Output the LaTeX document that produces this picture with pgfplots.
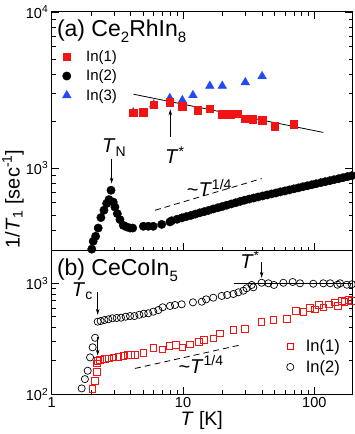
\documentclass[border=0pt]{standalone}
\usepackage{fontspec}
\setmainfont{Liberation Sans}
\usepackage{pgfplots}
\pgfplotsset{compat=1.18}
\usetikzlibrary{arrows.meta}

\definecolor{rojo}{RGB}{240,20,20}
\definecolor{azul}{RGB}{35,75,245}

\tikzset{
  ann/.style={font=\fontsize{20}{20}\selectfont, inner sep=0pt},
  arr/.style={-{Stealth[length=6pt,width=3.5pt]}, line width=0.7pt},
}
\newcommand{\sub}[1]{\raisebox{-0.26em}{\fontsize{15}{15}\selectfont #1}}

\begin{document}
\begin{tikzpicture}[x=1pt,y=1pt]
\path[use as bounding box] (0,0) rectangle (354,434);

% ---- (a) Ce2RhIn8
\begin{axis}[at={(51.7pt,183.3pt)}, anchor=south west,
  scale only axis, width=301pt, height=238.7pt,
  xmode=log, ymode=log, xmin=1, xmax=196, ymin=295, ymax=10000,
  tick align=inside, major tick length=7.5pt, minor tick length=4pt,
  axis line style={line width=1pt},
  tick style={black, line width=0.8pt},
  tick label style={font=\fontsize{14.5}{14.5}\selectfont},
  xtick={1,10,100}, minor xtick={2,3,4,5,6,7,8,9,20,30,40,50,60,70,80,90,200},
  xtick pos=both, xticklabels={},
  ytick={1000,10000}, yticklabels={10\textsuperscript{3},10\textsuperscript{4}},
  minor ytick={400,500,600,700,800,900,2000,3000,4000,5000,6000,7000,8000,9000},
  legend style={at={(0.035,0.848)}, anchor=north west, draw=none, fill=none,
    inner sep=0pt, column sep=13pt, row sep=3pt, font=\fontsize{15}{15}\selectfont},
  legend cell align=left,
]
\addplot[only marks, mark=triangle*, mark size=5pt, color=azul, forget plot] coordinates {
(4.18,2265) (5.98,2547) (7.93,2799) (9.88,2716) (11.9,2924) (16.0,3357) (19.9,3357) (29.8,3540) (40.0,3873)
};
\addplot[only marks, mark=square*, mark size=3.8pt, color=rojo] coordinates {
(4.18,2265) (4.99,2275) (5.98,2547) (7.93,2649) (9.88,2488) (12.9,2344) (16.0,2404) (19.9,2208)
(22.8,2208) (25.8,2234) (29.8,2074) (34.0,2061) (40.0,2023) (49.9,1857) (69.7,1905)
};
\addplot[only marks, mark=*, mark size=4.2pt, color=black] coordinates {
(2.02,302) (2.07,339) (2.16,365) (2.26,412) (2.37,481) (2.50,536) (2.62,592) (2.73,627) (2.83,720)
(2.94,605) (3.03,562) (3.16,510) (3.31,467) (3.51,429) (3.72,419) (3.95,412) (4.14,412)
(4.99,423) (5.44,423) (5.93,423) (6.88,435) (7.95,451)
(8.2,459) (9.0,469) (9.8,479) (10.6,488) (11.5,497) (12.4,506) (13.4,516) (14.5,525) (15.7,535)
(17.0,546) (18.4,556) (19.9,566) (21.5,577) (23.3,588) (25.2,599) (27.3,611) (29.5,622) (31.9,632)
(34.5,642) (37.3,652) (40.4,662) (43.7,672) (47.2,682) (51.1,692) (55.2,703) (59.7,713) (64.6,724)
(69.9,735) (75.6,746) (81.7,758) (88.4,769) (95.6,781) (103,792) (112,805) (121,817) (131,829)
(141,841) (153,854) (165,867) (179,881) (193,893)
};
\addlegendimage{only marks, mark=triangle*, mark size=5pt, color=azul}
\legend{In(1),In(2),In(3)}
\addplot[black, line width=0.8pt] coordinates {(4.2,2970) (117,1690)};
\addplot[black, line width=0.8pt, dash pattern=on 6pt off 4pt] coordinates {(6.12,536) (39.7,855)};
\node[anchor=base west, font=\fontsize{23}{23}\selectfont, inner sep=0pt] at (rel axis cs:0.017,0.898)
  {(a) Ce\sub{2}RhIn\sub{8}};
\node[ann, anchor=base] at (axis cs:2.99,1248) {\textit{T}\textsubscript{N}};
\draw[arr] (axis cs:2.86,1148) -- (axis cs:2.86,794);
\node[ann, anchor=base west] at (axis cs:7.29,1067) {\textit{T}\textsuperscript{*}};
\draw[arr] (axis cs:8.0,1580) -- (axis cs:8.0,2377);
\node[ann, anchor=base west] at (axis cs:10.67,652) {\textasciitilde\textit{T}\textsuperscript{1/4}};
\end{axis}

% ---- (b) CeCoIn5
\begin{axis}[at={(51.7pt,39.7pt)}, anchor=south west,
  scale only axis, width=301pt, height=143.6pt,
  xmode=log, ymode=log, xmin=1, xmax=196, ymin=100, ymax=1967,
  tick align=inside, major tick length=7.5pt, minor tick length=4pt,
  axis line style={line width=1pt},
  tick style={black, line width=0.8pt},
  tick label style={font=\fontsize{14.5}{14.5}\selectfont},
  xticklabel style={inner sep=0pt, yshift=-3pt},
  xtick={1,10,100}, minor xtick={2,3,4,5,6,7,8,9,20,30,40,50,60,70,80,90,200},
  xtick pos=bottom, xticklabels={1,10,100},
  ytick={100,1000}, yticklabels={10\textsuperscript{2},10\textsuperscript{3}},
  minor ytick={200,300,400,500,600,700,800,900},
  legend style={at={(0.78,0.395)}, anchor=north west, draw=none, fill=none,
    inner sep=0pt, column sep=10pt, row sep=3pt, font=\fontsize{16.5}{16.5}\selectfont},
  legend cell align=left,
]
\addplot[only marks, mark=square, mark size=3.3pt, color=rojo, mark options={solid, line width=0.9pt, draw=rojo}, forget plot] coordinates {
(2.05,112) (2.14,132) (2.20,158) (2.20,190)
(2.23,199) (2.33,204) (2.55,207) (2.73,211) (2.95,214) (3.22,218) (3.51,221) (3.79,225) (4.02,225) (4.31,225)
(4.98,237) (5.94,260) (6.96,254) (7.87,274) (8.85,278) (9.88,265) (11.3,282) (13.2,298) (14.5,308)
(17.0,319) (19.1,354) (24.2,380) (29.6,388) (39.7,446) (48.8,470) (61.6,477) (72.6,563) (82.5,555)
(92.7,603) (101,583) (109,638) (117,608) (129,647) (144,674) (152,624) (162,697) (169,683) (182,708) (193,697)
};
\addplot[only marks, mark=o, mark size=3.6pt, color=black, mark options={solid, line width=0.7pt, draw=black}, forget plot] coordinates {
(1.69,113) (1.79,137) (1.88,163) (1.96,215) (2.05,265) (2.14,323)
(2.24,451) (2.36,457) (2.52,467) (2.70,474) (2.90,484) (3.13,487) (3.37,490) (3.66,500) (3.95,507)
(4.26,507) (4.65,521) (5.02,532) (5.44,537) (5.94,555) (6.49,574) (7.0,608) (7.96,625) (8.69,638)
(9.77,647) (11.9,674) (13.9,683) (15.0,717) (17.0,742) (19.7,769) (21.7,785) (24.2,801) (26.4,830)
(28.8,858) (30.5,902) (33.3,966) (34.3,920) (39.7,1011) (44.7,1000) (49.3,966) (58.1,1011) (68.4,1027)
(77.8,1000) (98.2,991) (117,1000) (132,1000) (150,971) (157,1000) (177,971) (193,980)
};
\addlegendimage{only marks, mark=square, mark size=3.3pt, draw=red, mark options={solid, line width=0.9pt, draw=red, fill=white}}
\addlegendimage{only marks, mark=o, mark size=3.6pt, draw=black, mark options={solid, line width=0.7pt, draw=black}}
\legend{In(1),In(2)}
\addplot[black, line width=0.8pt] coordinates {(24.4,1000) (196,1000)};
\addplot[black, line width=0.8pt, dash pattern=on 6pt off 4pt] coordinates {(4.31,171) (27.2,278)};
\node[anchor=base west, font=\fontsize{23}{23}\selectfont, inner sep=0pt] at (rel axis cs:0.017,0.826)
  {(b) CeCoIn\sub{5}};
\node[ann, anchor=base west] at (axis cs:1.42,757) {\textit{T}\textsubscript{c}};
\draw[arr] (axis cs:2.24,830) -- (axis cs:2.24,520);
\draw[arr] (axis cs:2.24,330) -- (axis cs:2.24,223);
\node[ann, anchor=base west] at (axis cs:27.2,1365) {\textit{T}\textsuperscript{*}};
\draw[arr] (axis cs:39.7,1560) -- (axis cs:39.7,1120);
\node[ann, anchor=base west] at (axis cs:9.21,155) {\textasciitilde\textit{T}\textsuperscript{1/4}};
\end{axis}

\node[rotate=90, font=\fontsize{20}{20}\selectfont] at (13,235)
  {1/\textit{T}\textsubscript{1} [sec\textsuperscript{-1}]};
\node[anchor=base, inner sep=0pt, font=\fontsize{19.5}{19.5}\selectfont] at (201.7,8.5) {\textit{T} [K]};
\end{tikzpicture}
\end{document}
